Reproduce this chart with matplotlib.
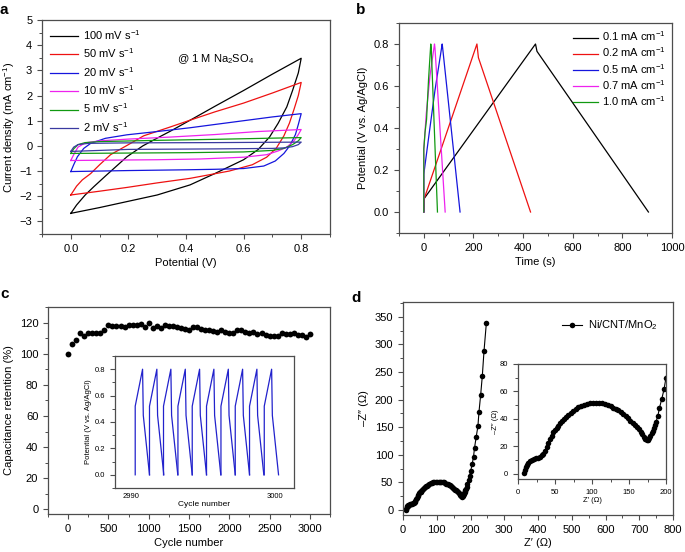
import matplotlib
matplotlib.use("Agg")
import matplotlib.pyplot as plt
from matplotlib.ticker import MultipleLocator, FixedLocator

plt.rcParams['font.family'] = ['Liberation Sans', 'DejaVu Sans']
plt.rcParams['mathtext.fontset'] = 'custom'
plt.rcParams['mathtext.rm'] = 'Liberation Sans'
plt.rcParams['mathtext.it'] = 'Liberation Sans:italic'
plt.rcParams['mathtext.bf'] = 'Liberation Sans:bold'
plt.rcParams['font.size'] = 8
plt.rcParams['axes.edgecolor'] = '0.3'
plt.rcParams['axes.linewidth'] = 0.9
plt.rcParams['xtick.color'] = '0.3'
plt.rcParams['ytick.color'] = '0.3'
plt.rcParams['xtick.labelcolor'] = 'black'
plt.rcParams['ytick.labelcolor'] = 'black'

# ---- a: CV loops (potential V, current mA cm-1), each loop 0 -> 0.8 -> 0
cv_labels = ["100 mV s$^{\\mathrm{-1}}$", "50 mV s$^{\\mathrm{-1}}$", "20 mV s$^{\\mathrm{-1}}$",
             "10 mV s$^{\\mathrm{-1}}$", "5 mV s$^{\\mathrm{-1}}$", "2 mV s$^{\\mathrm{-1}}$"]
cv_colors = ["black", "#ee1111", "#1515dd", "#ee22ee", "#119911", "#3a3aa0"]

cv100_v = [0, 0.02, 0.05, 0.08, 0.12, 0.195, 0.25, 0.31, 0.345, 0.43, 0.5, 0.6, 0.7, 0.8,
           0.79, 0.77, 0.75, 0.72, 0.69, 0.65, 0.6, 0.5, 0.414, 0.3, 0.2, 0.1, 0]
cv100_i = [-2.68, -2.35, -1.95, -1.62, -1.2, -0.43, 0.0, 0.37, 0.58, 1.12, 1.57, 2.2, 2.85, 3.48,
           2.9, 2.2, 1.55, 0.9, 0.35, -0.15, -0.55, -1.1, -1.55, -1.95, -2.2, -2.45, -2.68]
cv50_v = [0, 0.02, 0.04, 0.069, 0.1, 0.138, 0.2, 0.253, 0.345, 0.414, 0.5, 0.6, 0.7, 0.8,
          0.79, 0.775, 0.759, 0.74, 0.713, 0.68, 0.63, 0.55, 0.414, 0.3, 0.195, 0.1, 0]
cv50_i = [-1.95, -1.6, -1.35, -1.1, -0.75, -0.35, 0.05, 0.4, 0.75, 1.02, 1.35, 1.7, 2.1, 2.52,
          2.0, 1.45, 0.9, 0.4, -0.1, -0.45, -0.75, -1.0, -1.29, -1.47, -1.65, -1.8, -1.95]
cv20_v = [0, 0.01, 0.023, 0.045, 0.069, 0.12, 0.195, 0.3, 0.414, 0.5, 0.6, 0.7, 0.8,
          0.79, 0.78, 0.76, 0.74, 0.71, 0.67, 0.6, 0.5, 0.4, 0.2, 0]
cv20_i = [-1.02, -0.75, -0.43, -0.1, 0.1, 0.3, 0.44, 0.57, 0.72, 0.85, 1.0, 1.15, 1.28,
          0.85, 0.45, 0.0, -0.3, -0.6, -0.8, -0.9, -0.93, -0.95, -0.98, -1.02]
cv10_v = [0, 0.01, 0.025, 0.05, 0.1, 0.2, 0.345, 0.5, 0.65, 0.8,
          0.79, 0.775, 0.75, 0.72, 0.68, 0.6, 0.45, 0.3, 0]
cv10_i = [-0.58, -0.35, -0.05, 0.12, 0.2, 0.27, 0.35, 0.45, 0.57, 0.65,
          0.45, 0.2, -0.05, -0.2, -0.35, -0.45, -0.52, -0.55, -0.58]
cv5_v = [0, 0.01, 0.025, 0.05, 0.1, 0.3, 0.5, 0.8,
         0.79, 0.77, 0.74, 0.7, 0.6, 0.4, 0]
cv5_i = [-0.3, -0.12, 0.05, 0.13, 0.17, 0.22, 0.26, 0.33,
         0.2, 0.05, -0.1, -0.18, -0.24, -0.27, -0.3]
cv2_v = [0, 0.01, 0.025, 0.06, 0.2, 0.5, 0.8,
         0.79, 0.77, 0.74, 0.7, 0.5, 0.2, 0]
cv2_i = [-0.22, -0.05, 0.05, 0.1, 0.12, 0.13, 0.15,
         0.05, -0.03, -0.08, -0.1, -0.12, -0.14, -0.22]
cv_v = [cv100_v, cv50_v, cv20_v, cv10_v, cv5_v, cv2_v]
cv_i = [cv100_i, cv50_i, cv20_i, cv10_i, cv5_i, cv2_i]

# ---- b: galvanostatic charge/discharge
gcd_labels = ["0.1 mA cm$^{\\mathrm{-1}}$", "0.2 mA cm$^{\\mathrm{-1}}$", "0.5 mA cm$^{\\mathrm{-1}}$",
              "0.7 mA cm$^{\\mathrm{-1}}$", "1.0 mA cm$^{\\mathrm{-1}}$"]
gcd_colors = ["black", "#ee1111", "#1515dd", "#ee22ee", "#119911"]
gcd01_t = [0, 2, 450, 456, 905]
gcd01_v = [0.0, 0.065, 0.8, 0.765, 0.0]
gcd02_t = [0, 2, 214, 220, 430]
gcd02_v = [0.0, 0.065, 0.8, 0.735, 0.0]
gcd05_t = [0, 0, 20, 45, 74, 76, 146]
gcd05_v = [0.0, 0.18, 0.36, 0.58, 0.8, 0.78, 0.0]
gcd07_t = [0, 0, 10, 25, 43, 45, 86]
gcd07_v = [0.0, 0.3, 0.47, 0.65, 0.8, 0.78, 0.0]
gcd10_t = [0, 0, 5, 11, 19, 28, 30, 55]
gcd10_v = [0.0, 0.3, 0.38, 0.44, 0.63, 0.8, 0.78, 0.0]
gcd_t = [gcd01_t, gcd02_t, gcd05_t, gcd07_t, gcd10_t]
gcd_v = [gcd01_v, gcd02_v, gcd05_v, gcd07_v, gcd10_v]

# ---- c: cycling retention
cycles = list(range(0, 3001, 50))
retention = [100, 106, 108.5, 113, 111.5, 113.5, 113, 113, 113, 115.5,
             118.5, 117.5, 117.5, 118, 117, 118.5, 118.5, 118.5, 119, 117,
             120, 116.5, 117.5, 116.5, 118.5, 118, 117.5, 117, 116.5, 116,
             115.5, 117, 117, 116, 115.5, 115, 114.5, 114, 115, 114,
             113.5, 113.5, 115.5, 115, 114, 113.5, 114, 112.5, 113, 112,
             111.5, 111.5, 111.5, 113, 112.5, 112.5, 113, 112, 112, 110.5, 112.5]
# inset: last ten cycles, one tooth per cycle
tooth_starts = [2990.30, 2991.29, 2992.26, 2993.26, 2994.25, 2995.24, 2996.24, 2997.23, 2998.22, 2999.24]
tooth_dt = [0.0, 0.0, 0.51, 0.56, 0.99]
tooth_v = [0.0, 0.52, 0.8, 0.45, 0.0]

# ---- d: Nyquist plot
z_re = [8.1, 9.5, 10.8, 12.3, 14, 16, 18.5, 21, 24.3, 27, 29.7, 32, 34.2, 36.5, 38.7, 41, 43.2,
        45.5, 47.7, 50, 52.3, 54.5, 56.8, 59.5, 62.6, 65, 68, 71, 74.8, 78, 81.5, 85, 89, 93, 97,
        101, 105.4, 110, 114, 118, 122, 125.5, 128.8, 132, 135.6, 139, 142.3, 145.7, 149, 152,
        155, 157.8, 160.4, 163, 165.8, 168, 170.3, 172, 173.9, 175.8, 177.5, 179, 180.6, 182.2,
        183.8, 185, 186.5, 189, 191, 194.2, 197.3, 200, 205, 209, 212, 217, 222, 225, 230, 235,
        240, 247]
z_im = [0.7, 2.7, 4.8, 6.5, 8, 9, 9.7, 10.4, 11, 11.5, 12.2, 13.2, 14.6, 16.8, 19.5, 22.4, 25.1,
        27.6, 30, 31.8, 33.4, 35, 36.6, 38.2, 39.8, 41.3, 42.7, 44.2, 45.6, 47, 48.4, 49.3, 50,
        50.8, 51.3, 51.6, 51.7, 51.6, 51.3, 50.8, 50, 49, 48, 47.1, 46.2, 44.8, 43.2, 41.7, 40.3,
        38.6, 37, 35.5, 34, 32.3, 30.5, 28.7, 26.8, 25.5, 24.4, 24.8, 26, 27.5, 29.3, 31.3, 33.4,
        35.5, 37.8, 42, 47.6, 54.3, 61.4, 70, 83, 97, 113, 133, 152, 177, 208, 243, 288, 339]

W, H = 685, 552
fig = plt.figure(figsize=(W / 100, H / 100), dpi=100)


def box(l, t, r, b):
    return [l / W, 1 - b / H, (r - l) / W, (b - t) / H]


def style(ax, size=8):
    for s in ['top', 'right']:
        ax.spines[s].set_visible(True)
    ax.tick_params(which='both', direction='out', top=False, right=False, labelsize=size)
    ax.tick_params(which='major', length=3.5, width=0.8)
    ax.tick_params(which='minor', length=2, width=0.7)


# a
ax = fig.add_axes(box(42, 20, 330, 234))
for v, i, c, lab in zip(cv_v, cv_i, cv_colors, cv_labels):
    ax.plot(v, i, color=c, lw=0.9, label=lab)
ax.set_xlim(-0.1, 0.9)
ax.set_ylim(-3.5, 5)
ax.xaxis.set_major_locator(FixedLocator([0, 0.2, 0.4, 0.6, 0.8]))
ax.xaxis.set_minor_locator(MultipleLocator(0.1))
ax.yaxis.set_major_locator(MultipleLocator(1))
ax.yaxis.set_minor_locator(MultipleLocator(0.5))
style(ax)
ax.set_xlabel("Potential (V)", labelpad=3)
ax.set_ylabel("Current density (mA cm$^{\\mathrm{-1}}$)", labelpad=2)
ax.legend(loc='upper left', frameon=False, fontsize=8, handlelength=2.5,
          handletextpad=0.5, labelspacing=0.42, borderaxespad=0.3)
ax.text(0.37, 3.45, "@ 1 M Na$_2$SO$_4$", fontsize=8, va='center')

# b
ax = fig.add_axes(box(399, 23, 672, 233))
for t, v, c, lab in zip(gcd_t, gcd_v, gcd_colors, gcd_labels):
    ax.plot(t, v, color=c, lw=0.9, label=lab)
ax.set_xlim(-100, 1000)
ax.set_ylim(-0.1, 0.9)
ax.xaxis.set_major_locator(MultipleLocator(200))
ax.xaxis.set_minor_locator(MultipleLocator(100))
ax.yaxis.set_major_locator(FixedLocator([0, 0.2, 0.4, 0.6, 0.8]))
ax.yaxis.set_minor_locator(MultipleLocator(0.1))
style(ax)
ax.set_xlabel("Time (s)", labelpad=3)
ax.set_ylabel("Potential (V vs. Ag/AgCl)", labelpad=4)
ax.legend(loc='upper right', frameon=False, fontsize=8, handlelength=2.3,
          handletextpad=0.3, labelspacing=0.2, borderaxespad=0.2)

# c
ax = fig.add_axes(box(48, 307, 330, 514))
ax.plot(cycles, retention, 'o', color='black', ms=4.2, mew=0)
ax.set_xlim(-250, 3250)
ax.set_ylim(-3, 130)
ax.xaxis.set_major_locator(MultipleLocator(500))
ax.xaxis.set_minor_locator(MultipleLocator(250))
ax.yaxis.set_major_locator(FixedLocator([0, 20, 40, 60, 80, 100, 120]))
ax.yaxis.set_minor_locator(MultipleLocator(10))
style(ax)
ax.set_xlabel("Cycle number", labelpad=3)
ax.set_ylabel("Capacitance retention (%)", labelpad=4)

axi = fig.add_axes(box(115, 356, 294, 488))
for s in tooth_starts:
    axi.plot([s + d for d in tooth_dt], tooth_v, color='#2222cc', lw=0.9)
axi.set_xlim(2988.9, 3001.3)
axi.set_ylim(-0.1, 0.9)
axi.xaxis.set_major_locator(FixedLocator([2990, 3000]))
axi.yaxis.set_major_locator(FixedLocator([0, 0.2, 0.4, 0.6, 0.8]))
axi.yaxis.set_minor_locator(MultipleLocator(0.1))
style(axi, 5.5)
axi.tick_params(axis='x', length=0)
axi.set_xlabel("Cycle number", fontsize=6, labelpad=1)
axi.set_ylabel("Potential (V vs. Ag/AgCl)", fontsize=5.5, labelpad=2)

# d
ax = fig.add_axes(box(403, 302, 673, 515))
ax.plot(z_re, z_im, '-o', color='black', lw=0.8, ms=4, mew=0, label="Ni/CNT/MnO$_2$")
ax.set_xlim(0, 800)
ax.set_ylim(-9, 377)
ax.xaxis.set_major_locator(MultipleLocator(100))
ax.xaxis.set_minor_locator(MultipleLocator(50))
ax.yaxis.set_major_locator(FixedLocator([0, 50, 100, 150, 200, 250, 300, 350]))
ax.yaxis.set_minor_locator(MultipleLocator(25))
style(ax)
ax.set_xlabel("Z\u2032 (\u03a9)", labelpad=2)
ax.set_ylabel("\u2013Z\u2033 (\u03a9)", labelpad=4)
ax.legend(loc='upper right', frameon=False, fontsize=8, handlelength=1.8,
          handletextpad=0.5, bbox_to_anchor=(0.98, 0.97))

axi = fig.add_axes(box(518, 364, 666, 479))
axi.plot(z_re, z_im, '-o', color='black', lw=0.8, ms=4, mew=0)
axi.set_xlim(0, 200)
axi.set_ylim(-4, 80)
axi.xaxis.set_major_locator(MultipleLocator(50))
axi.xaxis.set_minor_locator(MultipleLocator(25))
axi.yaxis.set_major_locator(MultipleLocator(20))
axi.yaxis.set_minor_locator(MultipleLocator(10))
style(axi, 5.5)
axi.set_xlabel("Z\u2032 (\u03a9)", fontsize=5.5, labelpad=1)
axi.set_ylabel("\u2013Z\u2033 (\u03a9)", fontsize=5.5, labelpad=1)

# panel letters
for lab, x, y in [("a", 0, 3), ("b", 356, 3), ("c", 0, 287), ("d", 351, 291)]:
    fig.text(x / W, 1 - y / H, lab, fontsize=11, fontweight='bold', va='top', ha='left')

fig.savefig("out.png", dpi=100)
